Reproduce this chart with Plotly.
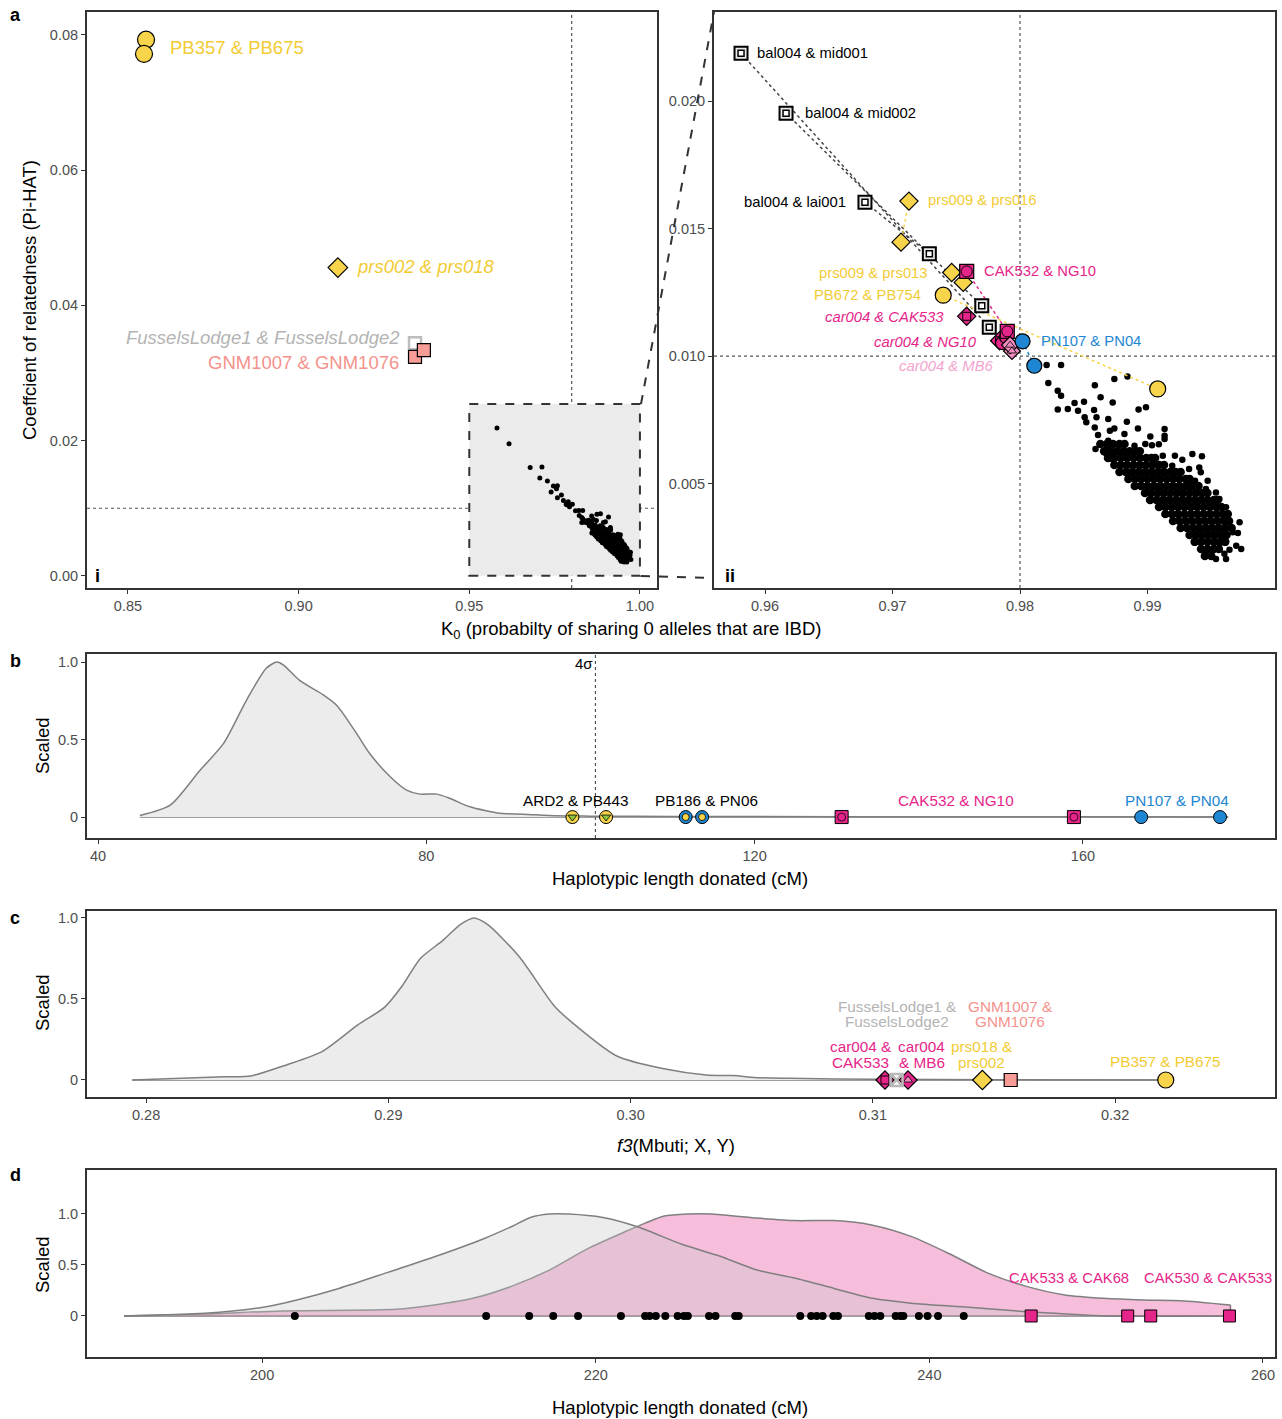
import plotly.graph_objects as go

W, H = 1282, 1419
FONT = "Liberation Sans, Arial, sans-serif"
YEL = "#F7D44A"; YEL_T = "#F2CB35"
MAG = "#E6258A"; PINK = "#F08CC0"; PINK_T = "#F4A3CF"
BLUE = "#1E86D2"; GREY_T = "#B4B4B4"; SAL = "#F89C97"; SAL_T = "#F5928C"
GREEN = "#8CC63E"
LINEC = "#7F7F7F"

# ---------------- DATA ----------------
# Panel a(i): outlying pairs (K0, PI_HAT)
pb357_k0 = [0.8553, 0.8547]; pb357_pihat = [0.0793, 0.0772]
prs002_k0 = [0.9115]; prs002_pihat = [0.0456]
fussels_k0 = [0.9341]; fussels_pihat = [0.0344]
gnm_k0 = [0.9341, 0.9367]; gnm_pihat = [0.0324, 0.0334]

# Panel a(ii): labelled pairs, two estimates each (k0_1, pihat_1, k0_2, pihat_2)
bal_mid001 = [0.95812, 0.02188, 0.97759, 0.01113]
bal_mid002 = [0.96165, 0.01953, 0.97700, 0.01197]
bal_lai001 = [0.96784, 0.01604, 0.97289, 0.01401]
prs009_prs016 = [0.97129, 0.01608, 0.97067, 0.01447]
prs009_prs013 = [0.97464, 0.01328, 0.97555, 0.01289]
pb672_pb754 = [0.97398, 0.01239, 0.99080, 0.00871]
cak532_ng10 = [0.97582, 0.01332, 0.97900, 0.01097]
car004_cak533 = [0.97582, 0.01156, 0.97840, 0.01060]
car004_ng10 = [0.97859, 0.01051, 0.97890, 0.01075]
car004_mb6 = [0.97937, 0.01020, 0.97922, 0.01043]
pn107_pn04 = [0.98020, 0.01058, 0.98112, 0.00962]

# Unlabelled pairs: sparse points
sparse_dots = [
    (0.98209, 0.00965), (0.98322, 0.00965), (0.98222, 0.00894), (0.98296, 0.00864),
    (0.98322, 0.00844), (0.98587, 0.00886), (0.98740, 0.00910), (0.98843, 0.00920),
    (0.98632, 0.00838), (0.98727, 0.00818), (0.98428, 0.00816), (0.98502, 0.00821),
    (0.98296, 0.00790), (0.98375, 0.00792), (0.98455, 0.00785), (0.98581, 0.00788),
    (0.98930, 0.00790), (0.98988, 0.00799), (0.98507, 0.00760), (0.98600, 0.00760),
    (0.98692, 0.00753), (0.98838, 0.00742), (0.98520, 0.00740), (0.98586, 0.00720),
    (0.98705, 0.00707), (0.98740, 0.00716), (0.98925, 0.00716), (0.99134, 0.00714),
    (0.98612, 0.00690), (0.98819, 0.00694), (0.99134, 0.00687), (0.98692, 0.00668),
    (0.99022, 0.00684), (0.98898, 0.00648), (0.98983, 0.00655), (0.99035, 0.00650),
    (0.99089, 0.00654), (0.99134, 0.00675), (0.98592, 0.00635), (0.98679, 0.00616),
    (0.98692, 0.00646), (0.98784, 0.00655), (0.98719, 0.00596), (0.99120, 0.00609),
    (0.99215, 0.00609), (0.99352, 0.00616), (0.99427, 0.00607), (0.99273, 0.00593),
    (0.99194, 0.00570), (0.99326, 0.00557), (0.99406, 0.00563), (0.99418, 0.00544),
    (0.99472, 0.00511), (0.99373, 0.00511), (0.99458, 0.00478), (0.99537, 0.00465),
    (0.99564, 0.00439), (0.99616, 0.00407), (0.99722, 0.00348), (0.99709, 0.00306),
    (0.99735, 0.00243), (0.99696, 0.00256), (0.99643, 0.00240), (0.99616, 0.00204),
    (0.99537, 0.00204), (0.99603, 0.00224), (0.99669, 0.00309), (0.99616, 0.00322),
]

# Unlabelled pairs: dense cloud, rows of K0 values at each PI_HAT level
cloud_pihat = [0.00655, 0.00627, 0.00600, 0.00573, 0.00545, 0.00518, 0.00490, 0.00463,
               0.00435, 0.00408, 0.00380, 0.00353, 0.00325, 0.00298, 0.00271, 0.00243, 0.00216]
cloud_k0 = [
    [0.9863, 0.9868, 0.9873, 0.9878, 0.9882],
    [0.9866, 0.9871, 0.9876, 0.9881, 0.9886, 0.9891, 0.9894],
    [0.9869, 0.9874, 0.9879, 0.9884, 0.9889, 0.9894, 0.9899, 0.9903, 0.9906],
    [0.9874, 0.9879, 0.9884, 0.9889, 0.9894, 0.9899, 0.9904, 0.9909, 0.9913],
    [0.9878, 0.9883, 0.9888, 0.9893, 0.9898, 0.9903, 0.9908, 0.9913, 0.9918, 0.9922, 0.9926],
    [0.9885, 0.9890, 0.9895, 0.9900, 0.9905, 0.9910, 0.9915, 0.9920, 0.9925, 0.9930, 0.9933],
    [0.9890, 0.9895, 0.9900, 0.9905, 0.9910, 0.9915, 0.9920, 0.9925, 0.9930, 0.9935, 0.9940],
    [0.9898, 0.9903, 0.9908, 0.9913, 0.9918, 0.9923, 0.9928, 0.9933, 0.9938, 0.9943, 0.9947],
    [0.9902, 0.9907, 0.9912, 0.9917, 0.9922, 0.9927, 0.9932, 0.9937, 0.9942, 0.9947, 0.9952, 0.9955],
    [0.9909, 0.9914, 0.9919, 0.9924, 0.9929, 0.9934, 0.9939, 0.9944, 0.9949, 0.9954, 0.9958],
    [0.9914, 0.9919, 0.9924, 0.9929, 0.9934, 0.9939, 0.9944, 0.9949, 0.9954, 0.9959, 0.9963],
    [0.9920, 0.9925, 0.9930, 0.9935, 0.9940, 0.9945, 0.9950, 0.9955, 0.9960, 0.9964],
    [0.9926, 0.9931, 0.9936, 0.9941, 0.9946, 0.9951, 0.9956, 0.9961, 0.9966],
    [0.9933, 0.9938, 0.9943, 0.9948, 0.9953, 0.9958, 0.9962],
    [0.9937, 0.9942, 0.9947, 0.9952, 0.9957, 0.9961],
    [0.9942, 0.9947, 0.9952, 0.9956],
    [0.9945, 0.9950],
]

# Panel b: haplotypic length donated (cM), scaled density
b_dens_x = [45.1, 48.8, 52.4, 55.3, 58.1, 60.5, 61.8, 62.6, 64.6, 67.4, 69.1, 71.5, 73.1,
            75.6, 77.6, 79.2, 81.3, 82.9, 85.3, 89.0, 91.8, 95.9, 100, 110, 120, 140, 160, 177.7]
b_dens_y = [0.01, 0.077, 0.30, 0.475, 0.755, 0.96, 1.0, 0.98, 0.88, 0.79, 0.72, 0.54, 0.41,
            0.26, 0.174, 0.148, 0.148, 0.12, 0.066, 0.024, 0.019, 0.008, 0.006, 0.004, 0.003,
            0.002, 0.002, 0.0]
b_sigma4 = 100.6
b_ard2_pb443 = [97.8, 101.9]
b_pb186_pn06 = [111.6, 113.6]
b_cak532_ng10 = [130.6, 158.9]
b_pn107_pn04 = [167.1, 176.7]

# Panel c: f3(Mbuti; X, Y), scaled density
c_dens_x = [0.27943, 0.28321, 0.28432, 0.28579, 0.28726, 0.28874, 0.28985, 0.29059, 0.29132,
            0.29224, 0.29298, 0.29353, 0.29409, 0.29538, 0.29685, 0.29759, 0.29943, 0.30127,
            0.30312, 0.30422, 0.30532, 0.30658, 0.3100, 0.3150, 0.3221]
c_dens_y = [0.0, 0.02, 0.025, 0.093, 0.175, 0.34, 0.45, 0.585, 0.75, 0.86, 0.96, 1.0, 0.96,
            0.765, 0.457, 0.354, 0.148, 0.072, 0.031, 0.027, 0.014, 0.01, 0.004, 0.002, 0.0]
c_car004_cak533 = 0.31050
c_fussels = 0.31098
c_car004_mb6 = 0.31145
c_prs018_prs002 = 0.31452
c_gnm = 0.31569
c_pb357_pb675 = 0.32209

# Panel d: haplotypic length donated (cM)
d_grey_x = [191.72, 196.56, 200.23, 202.08, 204.6, 207.58, 210.33, 213.32, 214.93, 216.08, 217.22,
            218.37, 220.43, 222.5, 225.2, 227.37, 229.67, 231.98, 234.29, 236.6, 238.9, 242.36,
            245.82, 249.28, 251.0, 258.0]
d_grey_y = [0.0, 0.026, 0.09, 0.157, 0.27, 0.43, 0.58, 0.76, 0.875, 0.966, 1.0, 1.0, 0.966, 0.875,
            0.70, 0.59, 0.45, 0.37, 0.27, 0.173, 0.125, 0.085, 0.042, 0.01, 0.0, 0.0]
d_pink_x = [191.72, 196.56, 201.16, 208.04, 210.33, 212.63, 214.93, 217.22, 219.52, 221.82, 222.97,
            224.1, 225.5, 226.9, 229.67, 231.98, 234.29, 236.6, 238.9, 241.2, 243.51, 245.82,
            248.13, 250.43, 252.74, 255.05, 258.05]
d_pink_y = [0.0, 0.02, 0.05, 0.065, 0.108, 0.173, 0.29, 0.45, 0.66, 0.83, 0.91, 0.98, 1.0, 1.0,
            0.96, 0.935, 0.935, 0.89, 0.78, 0.61, 0.42, 0.29, 0.206, 0.173, 0.157, 0.15, 0.108]
d_dots = [201.96, 213.43, 216.01, 217.45, 218.94, 221.51, 222.96, 223.23, 223.60, 224.17, 224.91,
          225.29, 225.52, 226.79, 227.18, 228.36, 228.57, 232.26, 232.91, 233.25, 233.60, 234.24,
          234.52, 236.37, 236.71, 237.06, 237.98, 238.26, 238.44, 239.37, 239.89, 240.52, 242.06]
d_cak = [246.1, 251.89, 253.27, 257.99]

# ---------------- FIGURE ----------------
fig = go.Figure()
AX = {1: ("x", "y"), 2: ("x2", "y2"), 3: ("x3", "y3"), 4: ("x4", "y4"), 5: ("x5", "y5")}


def add(p, x, y, **kw):
    xa, ya = AX[p]
    fig.add_trace(go.Scatter(x=x, y=y, xaxis=xa, yaxis=ya, showlegend=False,
                             hoverinfo="skip", **kw))


def mk(symbol, size, color, lw=1.2, lc="black"):
    return dict(symbol=symbol, size=size, color=color, line=dict(color=lc, width=lw))


all_pairs = [bal_mid001, bal_mid002, bal_lai001, prs009_prs016, prs009_prs013, pb672_pb754,
             cak532_ng10, car004_cak533, car004_ng10, car004_mb6, pn107_pn04]
cloud_x, cloud_y = [], []
for pih, row in zip(cloud_pihat, cloud_k0):
    for k in row:
        cloud_x.append(k); cloud_y.append(pih)
sp_x = [p[0] for p in sparse_dots]; sp_y = [p[1] for p in sparse_dots]
pair_x = [p[0] for p in all_pairs] + [p[2] for p in all_pairs]
pair_y = [p[1] for p in all_pairs] + [p[3] for p in all_pairs]

# ---- a(i) ----
add(1, cloud_x + sp_x + pair_x, cloud_y + sp_y + pair_y, mode="markers",
    marker=dict(size=5, color="black"))
add(1, pb357_k0, pb357_pihat, mode="markers", marker=mk("circle", 17, YEL))
add(1, prs002_k0, prs002_pihat, mode="markers", marker=mk("diamond", 15, YEL))
add(1, fussels_k0, fussels_pihat, mode="markers",
    marker=dict(symbol="square-open", size=12, color="#BDBDBD", line=dict(width=2.5)))
add(1, gnm_k0, gnm_pihat, mode="markers", marker=mk("square", 13, SAL))

# ---- a(ii) ----
add(2, cloud_x, cloud_y, mode="markers", marker=dict(size=8.5, color="black"))
add(2, sp_x, sp_y, mode="markers", marker=dict(size=6.5, color="black"))


def pair_line(p, color):
    add(2, [p[0], p[2]], [p[1], p[3]], mode="lines",
        line=dict(color=color, width=1.5, dash="dot"))


for p in [bal_mid001, bal_mid002, bal_lai001]:
    pair_line(p, "#444444")
pair_line(prs009_prs016, YEL)
pair_line(pb672_pb754, YEL)
pair_line(cak532_ng10, MAG)
pair_line(pn107_pn04, BLUE)


def both(p):
    return [p[0], p[2]], [p[1], p[3]]


for p in [bal_mid001, bal_mid002, bal_lai001]:
    x, y = both(p)
    add(2, x, y, mode="markers", marker=mk("square", 13, "#E8E8E8", 2))
    add(2, x, y, mode="markers", marker=mk("square", 6, "white", 1.5))
for p in [prs009_prs016, prs009_prs013]:
    x, y = both(p)
    add(2, x, y, mode="markers", marker=mk("diamond", 14, YEL))
x, y = both(pb672_pb754)
add(2, x, y, mode="markers", marker=mk("circle", 16, YEL))
x, y = both(car004_cak533)
add(2, x, y, mode="markers", marker=mk("diamond", 14, MAG))
add(2, x, y, mode="markers", marker=mk("square", 8, MAG, 1))
x, y = both(car004_ng10)
add(2, x, y, mode="markers", marker=mk("circle", 13, MAG))
x, y = both(cak532_ng10)
add(2, x, y, mode="markers", marker=mk("square", 14, MAG))
add(2, x, y, mode="markers", marker=mk("circle", 11, MAG, 1))
x, y = both(car004_mb6)
add(2, x, y, mode="markers", marker=mk("diamond", 13, PINK))
add(2, x, y, mode="markers", marker=mk("triangle-up", 8, PINK, 0.8))
x, y = both(pn107_pn04)
add(2, x, y, mode="markers", marker=mk("circle", 15, BLUE))

# ---- b ----
add(3, [b_dens_x[0], b_dens_x[-1]], [0, 0], mode="lines", line=dict(color=LINEC, width=1.5))
add(3, b_dens_x, b_dens_y, mode="lines", fill="tozeroy", fillcolor="#ECECEC",
    line=dict(color=LINEC, width=1.5, shape="spline", smoothing=0.7))
add(3, b_ard2_pb443, [0, 0], mode="markers", marker=mk("circle", 13, YEL, 1))
add(3, b_ard2_pb443, [0, 0], mode="markers", marker=mk("triangle-down", 8, GREEN, 0.8))
add(3, b_pb186_pn06, [0, 0], mode="markers", marker=mk("circle", 13, BLUE, 1))
add(3, b_pb186_pn06, [0, 0], mode="markers", marker=mk("circle", 7, YEL, 0.8))
add(3, b_cak532_ng10, [0, 0], mode="markers", marker=mk("square", 13, MAG, 1))
add(3, b_cak532_ng10, [0, 0], mode="markers", marker=mk("circle", 8, MAG, 0.8))
add(3, b_pn107_pn04, [0, 0], mode="markers", marker=mk("circle", 13, BLUE, 1))

# ---- c ----
add(4, [c_dens_x[0], c_dens_x[-1]], [0, 0], mode="lines", line=dict(color=LINEC, width=1.5))
add(4, c_dens_x, c_dens_y, mode="lines", fill="tozeroy", fillcolor="#ECECEC",
    line=dict(color=LINEC, width=1.5, shape="spline", smoothing=0.7))
add(4, [c_car004_cak533], [0], mode="markers", marker=mk("diamond", 14, MAG))
add(4, [c_car004_cak533], [0], mode="markers", marker=mk("square", 8, MAG, 1))
add(4, [c_car004_mb6], [0], mode="markers", marker=mk("diamond", 14, MAG))
add(4, [c_car004_mb6], [0], mode="markers", marker=mk("triangle-up", 8, PINK, 0.8))
add(4, [c_fussels], [0], mode="markers", marker=mk("square-x-open", 12, "#B8B8B8", 2.5, "#B8B8B8"))
add(4, [c_prs018_prs002], [0], mode="markers", marker=mk("diamond", 15, YEL))
add(4, [c_gnm], [0], mode="markers", marker=mk("square", 13, SAL))
add(4, [c_pb357_pb675], [0], mode="markers", marker=mk("circle", 16, YEL))

# ---- d ----
add(5, [d_pink_x[0], d_pink_x[-1], d_pink_x[-1]], [0, 0, d_pink_y[-1]], mode="lines",
    line=dict(color=LINEC, width=1.5))
add(5, d_pink_x, d_pink_y, mode="lines", fill="tozeroy", fillcolor="rgba(230,40,138,0.30)",
    line=dict(color=LINEC, width=1.5, shape="spline", smoothing=0.7))
add(5, d_grey_x, d_grey_y, mode="lines", fill="tozeroy", fillcolor="rgba(200,200,200,0.35)",
    line=dict(color=LINEC, width=1.5, shape="spline", smoothing=0.7))
add(5, d_dots, [0] * len(d_dots), mode="markers", marker=dict(size=8, color="black"))
add(5, d_cak, [0] * len(d_cak), mode="markers", marker=mk("square", 12, MAG, 1))

# ---------------- AXES ----------------
common = dict(showgrid=False, zeroline=False, showline=True, mirror=True, linecolor="#333333",
              linewidth=2, ticks="outside", ticklen=4, tickwidth=1, tickcolor="#333333",
              tickfont=dict(size=14.5, color="#4D4D4D", family=FONT))


def dx(a, b):
    return [a / W, b / W]


def dy(top, bot):
    return [1 - bot / H, 1 - top / H]


fig.update_layout(
    xaxis=dict(common, domain=dx(87, 657), range=[0.838, 1.005], anchor="y",
               tickvals=[0.85, 0.90, 0.95, 1.00], tickformat=".2f"),
    yaxis=dict(common, domain=dy(12, 588), range=[-0.0018, 0.0834], anchor="x",
               tickvals=[0, 0.02, 0.04, 0.06, 0.08], tickformat=".2f"),
    xaxis2=dict(common, domain=dx(714, 1275), range=[0.956, 1.0], anchor="y2",
                tickvals=[0.96, 0.97, 0.98, 0.99], tickformat=".2f"),
    yaxis2=dict(common, domain=dy(12, 588), range=[0.0009, 0.0235], anchor="x2",
                tickvals=[0.005, 0.010, 0.015, 0.020], tickformat=".3f"),
    xaxis3=dict(common, domain=dx(87, 1275), range=[38.66, 183.4], anchor="y3",
                tickvals=[40, 80, 120, 160]),
    yaxis3=dict(common, domain=dy(654, 838), range=[-0.135, 1.052], anchor="x3",
                tickvals=[0, 0.5, 1], ticktext=["0", "0.5", "1.0"]),
    xaxis4=dict(common, domain=dx(87, 1275), range=[0.27756, 0.3266], anchor="y4",
                tickvals=[0.28, 0.29, 0.30, 0.31, 0.32], tickformat=".2f"),
    yaxis4=dict(common, domain=dy(911, 1097), range=[-0.105, 1.043], anchor="x4",
                tickvals=[0, 0.5, 1], ticktext=["0", "0.5", "1.0"]),
    xaxis5=dict(common, domain=dx(87, 1275), range=[189.5, 260.72], anchor="y5",
                tickvals=[200, 220, 240, 260]),
    yaxis5=dict(common, domain=dy(1170, 1357), range=[-0.402, 1.431], anchor="x5",
                tickvals=[0, 0.5, 1], ticktext=["0", "0.5", "1.0"]),
)

# ---------------- SHAPES ----------------
DOT = dict(color="#555555", width=1.2, dash="dot")
shapes = [
    dict(type="rect", xref="x", yref="y", x0=0.95, x1=1.0, y0=0, y1=0.0254, fillcolor="#EBEBEB",
         line=dict(color="#333333", width=2, dash="dash"), layer="below"),
    dict(type="line", xref="x", yref="y domain", x0=0.98, x1=0.98, y0=0, y1=1, line=DOT, layer="below"),
    dict(type="line", xref="x domain", yref="y", x0=0, x1=1, y0=0.01, y1=0.01, line=DOT, layer="below"),
    dict(type="line", xref="x2", yref="y2 domain", x0=0.98, x1=0.98, y0=0, y1=1, line=DOT, layer="below"),
    dict(type="line", xref="x2 domain", yref="y2", x0=0, x1=1, y0=0.01, y1=0.01, line=DOT, layer="below"),
    dict(type="line", xref="x3", yref="y3 domain", x0=b_sigma4, x1=b_sigma4, y0=0, y1=1,
         line=dict(color="black", width=0.8, dash="dot"), layer="below"),
    dict(type="line", xref="paper", yref="paper", x0=641 / W, y0=1 - 404 / H, x1=714 / W, y1=1 - 12 / H,
         line=dict(color="#333333", width=2, dash="dash")),
    dict(type="line", xref="paper", yref="paper", x0=641 / W, y0=1 - 576 / H, x1=714 / W, y1=1 - 578 / H,
         line=dict(color="#333333", width=2, dash="dash")),
]
fig.update_layout(shapes=shapes)

# ---------------- ANNOTATIONS ----------------
ann = []


def note(text, x, y, ref, size, color="black", xanchor="center", yanchor="middle", angle=0):
    xr, yr = ref
    ann.append(dict(text=text, x=x, y=y, xref=xr, yref=yr, showarrow=False, xanchor=xanchor,
                    yanchor=yanchor, textangle=angle,
                    font=dict(size=size, color=color, family=FONT)))


P = ("paper", "paper")
# panel letters
for t, px, py in [("a", 15, 15), ("b", 15, 661), ("c", 15, 918), ("d", 15, 1175),
                  ("i", 97, 576), ("ii", 730, 576)]:
    note("<b>%s</b>" % t, px / W, 1 - py / H, P, 18)

TS = 18.5
# axis titles
note("Coeffcient of relatedness (Pi-HAT)", 30 / W, 1 - 300 / H, P, TS, angle=-90)
note("K<sub>0</sub> (probabilty of sharing 0 alleles that are IBD)", 631 / W, 1 - 630 / H, P, TS)
for py in [746, 1003, 1265]:
    note("Scaled", 42 / W, 1 - py / H, P, TS, angle=-90)
note("Haplotypic length donated (cM)", 680 / W, 1 - 878 / H, P, TS)
note("<i>f3</i>(Mbuti; X, Y)", 676 / W, 1 - 1145 / H, P, TS)
note("Haplotypic length donated (cM)", 680 / W, 1 - 1407 / H, P, TS)

A1 = ("x", "y"); A2 = ("x2", "y2"); A3 = ("x3", "y3"); A4 = ("x4", "y4"); A5 = ("x5", "y5")
# a(i) labels
note("PB357 & PB675", 0.8617, 0.0781, A1, 18.5, YEL_T, "left")
note("<i>prs002 & prs018</i>", 0.9165, 0.0457, A1, 18.5, YEL_T, "left")
note("<i>FusselsLodge1 & FusselsLodge2</i>", 0.9303, 0.0352, A1, 18.5, GREY_T, "right")
note("GNM1007 & GNM1076", 0.9300, 0.0315, A1, 18.5, SAL_T, "right")
# a(ii) labels
LS = 14.8
note("bal004 & mid001", 0.95922, 0.02188, A2, LS, "black", "left")
note("bal004 & mid002", 0.96298, 0.01953, A2, LS, "black", "left")
note("bal004 & lai001", 0.96651, 0.01604, A2, LS, "black", "right")
note("prs009 & prs016", 0.97263, 0.01612, A2, LS, YEL_T, "left")
note("prs009 & prs013", 0.97294, 0.01325, A2, LS, YEL_T, "right")
note("PB672 & PB754", 0.97239, 0.01239, A2, LS, YEL_T, "right")
note("<i>car004 & CAK533</i>", 0.97420, 0.01153, A2, LS, MAG, "right")
note("<i>car004 & NG10</i>", 0.97678, 0.01055, A2, LS, MAG, "right")
note("<i>car004 & MB6</i>", 0.97812, 0.00961, A2, LS, PINK_T, "right")
note("CAK532 & NG10", 0.97702, 0.01333, A2, LS, MAG, "left")
note("PN107 & PN04", 0.98149, 0.01059, A2, LS, BLUE, "left")
# b labels
BS = 15.3
note("4σ", b_sigma4, 0.99, A3, 15, "black", "right")
note("ARD2 & PB443", 98.2, 0.11, A3, BS, "black")
note("PB186 & PN06", 114.1, 0.11, A3, BS, "black")
note("CAK532 & NG10", 144.5, 0.11, A3, BS, MAG)
note("PN107 & PN04", 171.4, 0.11, A3, BS, BLUE)
# c labels (one annotation per text line, tight line spacing)
CS = 15.3
for txt, xv, yv, col in [
    ("FusselsLodge1 &", 0.31100, 0.451, GREY_T), ("FusselsLodge2", 0.31100, 0.358, GREY_T),
    ("GNM1007 &", 0.31566, 0.451, SAL_T), ("GNM1076", 0.31566, 0.358, SAL_T),
    ("car004 &", 0.30950, 0.204, MAG), ("CAK533", 0.30950, 0.111, MAG),
    ("car004", 0.31202, 0.204, MAG), ("& MB6", 0.31202, 0.111, MAG),
    ("prs018 &", 0.31449, 0.204, YEL_T), ("prs002", 0.31449, 0.111, YEL_T),
    ("PB357 & PB675", 0.32209, 0.117, YEL_T),
]:
    note(txt, xv, yv, A4, CS, col)
# d labels
note("CAK533 & CAK68", 248.40, 0.37, A5, 14.8, MAG)
note("CAK530 & CAK533", 256.70, 0.37, A5, 14.8, MAG)

fig.update_layout(annotations=ann, width=W, height=H, margin=dict(l=0, r=0, t=0, b=0),
                  paper_bgcolor="white", plot_bgcolor="white", font=dict(family=FONT))

fig.write_html("out.html", config={"displayModeBar": False},
               post_script="document.body.style.margin='0px';document.body.style.overflow='hidden';")
